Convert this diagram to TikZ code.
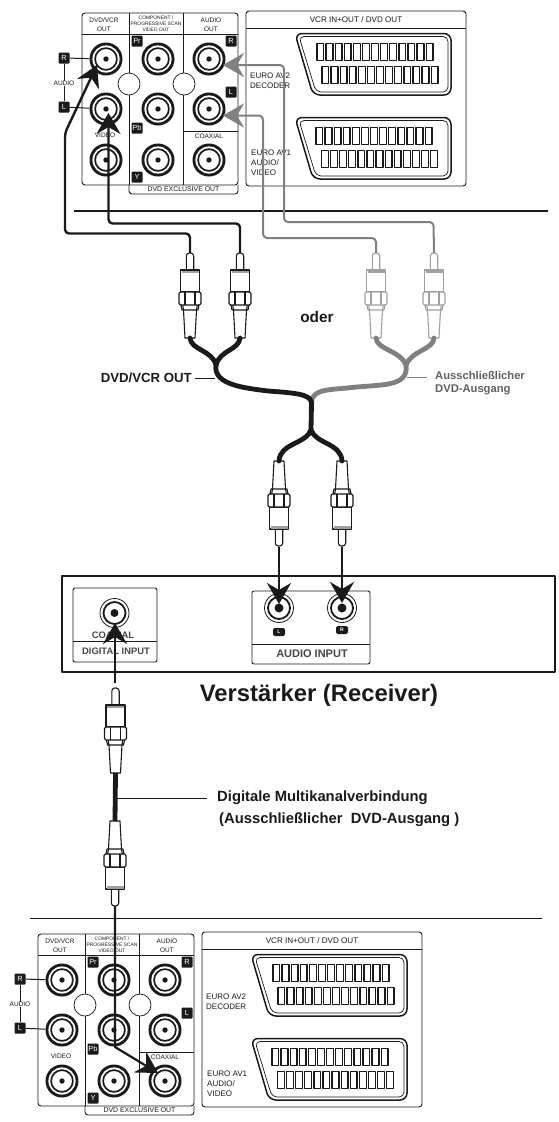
\documentclass[tikz,border=0pt]{standalone}
\usepackage{fontspec}
\setmainfont{Liberation Sans}
\usetikzlibrary{arrows.meta,calc}
\definecolor{ink}{HTML}{1A1A1A}
\definecolor{cablegray}{HTML}{808080}
\definecolor{pluggray}{HTML}{A0A0A0}
\newcommand{\fsz}[1]{\fontsize{#1}{#1}\selectfont}
\newcommand{\mkjack}[3]{%
  \node[jackbase] (#1) at (#2,#3) {};
  \fill[white] (#2,#3) circle (13.6);
  \draw[ink,line width=1.7] (#2,#3) circle (10.9);
  \fill[ink] (#2,#3) circle (2.7);
}
\newcommand{\mkrjack}[4]{%
  \node[rjackbase] (#1) at (#2,#3) {};
  \draw[ink,line width=1.8] (#2,#3) circle (11);
  \fill[ink] (#2,#3) circle (#4);
}
\newcommand{\mkpins}[3]{%
  \foreach \i in {0,...,12} {
    \draw[ink,line width=1.3] ({#1+\i*9.1},#3) rectangle ({#1+\i*9.1+6.8},{#3+17});
    \draw[ink,line width=1.3] ({#2+\i*9.1},{#3+23}) rectangle ({#2+\i*9.1+6.8},{#3+40});
  }
}
\tikzset{
  panelline/.style={ink,line width=0.9},
  jackbase/.style={circle,fill=ink,minimum size=33,inner sep=0},
  rjackbase/.style={circle,draw=ink,line width=0.8,fill=white,minimum size=29,inner sep=0},
  smalltxt/.style={text=ink,font=\fsz{6.5},inner sep=0,align=center},
  tinytxt/.style={text=ink,font=\fsz{4.9},inner sep=0,align=center},
  lefttxt/.style={text=ink,font=\fsz{8},inner sep=0,anchor=west},
  badge/.style={fill=ink,text=white,font=\fsz{7.4},rounded corners=1,minimum size=11,inner sep=0},
  rbadge/.style={fill=ink,text=white,font=\bfseries\fsz{5},rounded corners=1.6,minimum width=12,minimum height=8,inner sep=0},
  hole/.style={circle,draw=ink,line width=0.7,fill=white,minimum size=22,inner sep=0},
  boldtxt/.style={text=ink,font=\bfseries\fsz{14.8},inner sep=0,anchor=west},
  graytxt/.style={text=black!62,font=\bfseries\fsz{11.2},inner sep=0,anchor=west,align=left},
  recvtxt/.style={text=black!72,font=\bfseries\fsz{9.4},inner sep=0},
  wireb/.style={ink,line width=2.4,rounded corners=4},
  wireg/.style={cablegray,line width=2,rounded corners=4},
  thickb/.style={ink,line width=4.8,line cap=round},
  thickg/.style={cablegray,line width=4.8,line cap=round},
  tipb/.style={-{Stealth[length=21,width=24,inset=7]}},
  leader/.style={line width=0.9},
  rca/.pic={
    \coordinate (-tip) at (0,0);
    \coordinate (-tail) at (0,85);
    \draw[fill=white,rounded corners=3] (-3.7,17.5) -- (-3.7,0) -- (3.7,0) -- (3.7,17.5);
    \draw[fill=white] (-6.5,57) -- (-7.5,51) -- (7.5,51) -- (6.5,57) -- (5,85) -- (-5,85) -- cycle;
    \draw[fill=white] (-9.5,17) rectangle (9.5,39);
    \fill[pluggray] (-8.5,17.5) rectangle (8.5,20);
    \draw[fill=white,rounded corners=1.5] (-11,39) rectangle (11,52);
    \draw (-5,39) -- (-5,52) (5,39) -- (5,52);
    \draw (-9,52) -- (-8,57) -- (8,57) -- (9,52);
  },
  panel/.pic={
    % outer frames
    \draw[panelline,rounded corners=3] (129,185) -- (82,185) -- (82,13) -- (238,13) -- (238,185) -- (129,185);
    \draw[panelline,rounded corners=3] (129,185) -- (129,194) -- (238,194) -- (238,185);
    \draw[panelline] (82,34) -- (238,34);
    \draw[panelline] (129,13) -- (129,185) (183,13) -- (183,185);
    \draw[panelline] (183,131) -- (238,131);
    \node[hole] (-h1) at (129,84) {};
    \node[hole] (-h2) at (184,84) {};
    \mkjack{-j11}{106}{59}\mkjack{-j12}{158}{59}\mkjack{-j13}{209}{59}
    \mkjack{-j21}{106}{109}\mkjack{-j22}{158}{109}\mkjack{-j23}{209}{109}
    \mkjack{-j31}{106}{160}\mkjack{-j32}{158}{160}\mkjack{-j33}{209}{160}
    \node[smalltxt] (-a) at (104,24.5) {DVD/VCR\\[2.4pt]OUT};
    \node[tinytxt] (-b) at (156,24) {COMPONENT /\\[1pt]PROGRESSIVE SCAN\\[1pt]VIDEO OUT};
    \node[smalltxt] (-c) at (211,24.5) {AUDIO\\[2.4pt]OUT};
    \node[smalltxt] (-d) at (105,135) {VIDEO};
    \node[smalltxt] (-e) at (209,136) {COAXIAL};
    \node[smalltxt,font=\fsz{6.9}] (-f) at (183.5,189.3) {DVD EXCLUSIVE OUT};
    \node[smalltxt] (-g) at (64,83) {AUDIO};
    \node[badge] (-R) at (64,58) {R};
    \node[badge] (-L) at (64,107) {L};
    \draw[panelline,line width=1] (-R) -- (-j11);
    \draw[panelline,line width=1] (-L) -- (-j21);
    \draw[panelline,line width=1] (-R) -- (-g) (-g) -- (-L);
    \node[badge] (-pr) at (137,41) {Pr};
    \node[badge] (-pb) at (137,128) {Pb};
    \node[badge] (-y) at (137,177) {Y};
    \node[badge] (-r2) at (231,41) {R};
    \node[badge] (-l2) at (231,92) {L};
    % scart panel
    \draw[panelline,rounded corners=3] (246,11) rectangle (466,186);
    \draw[panelline] (246,28) -- (466,28);
    \node[smalltxt,font=\fsz{8.1}] (-s) at (356,20) {VCR IN+OUT / DVD OUT};
    \node[lefttxt] (-s1) at (250,76) {EURO AV2};
    \node[lefttxt] (-s2) at (250,86) {DECODER};
    \node[lefttxt] (-s3) at (251,153) {EURO AV1};
    \node[lefttxt] (-s4) at (251,163) {AUDIO/};
    \node[lefttxt] (-s5) at (251,173) {VIDEO};
    \foreach \dy in {0,84} {
      \draw[ink,line width=1.5,rounded corners=7] (295,{33.5+\dy}) -- (451,{33.5+\dy}) -- (451,{95+\dy}) -- (313,{95+\dy}) -- cycle;
      \draw[ink,line width=0.7,rounded corners=5] (299,{36.5+\dy}) -- (448,{36.5+\dy}) -- (448,{92+\dy}) -- (316,{92+\dy}) -- cycle;
    }
    \mkpins{317}{322}{43.5}
    \mkpins{316}{321.5}{127.5}
  }
}
\begin{document}
\begin{tikzpicture}[x=1pt,y=-1pt,line join=round]
\useasboundingbox (0,0) rectangle (559,1122);
\fill[white] (0,0) rectangle (559,1122);

\pic (top) at (0,0) {panel};
\pic (bot) at (-44,921) {panel};

% separators
\coordinate (sepA) at (74,211);
\coordinate (sepB) at (548,211);
\coordinate (sepC) at (30,918.5);
\coordinate (sepD) at (542,918.5);
\draw[ink,line width=1.2] (sepA) -- (sepB);
\draw[ink,line width=1.2] (sepC) -- (sepD);

% plugs
\pic[ink,line width=1.1] (p1) at (190,253) {rca};
\pic[ink,line width=1.1] (p2) at (240,253) {rca};
\pic[pluggray,line width=1.1] (p3) at (376,253) {rca};
\pic[pluggray,line width=1.1] (p4) at (434,253) {rca};
\pic[ink,line width=1.1,yscale=-1] (p5) at (279,546) {rca};
\pic[ink,line width=1.1,yscale=-1] (p6) at (342,546) {rca};
\pic[ink,line width=1.1] (p7) at (115.5,688) {rca};
\pic[ink,line width=1.1,yscale=-1] (p8) at (115,906) {rca};

% thin cables to the top panel
\coordinate (b1a) at (65,133);
\coordinate (b1b) at (65,233.5);
\coordinate (b1c) at (190,233.5);
\coordinate (b1t) at (97,65);
\coordinate (b2a) at (108.5,223.5);
\coordinate (b2b) at (240,223.5);
\coordinate (b2t) at (108.5,113);
\draw[wireb,tipb] (p1-tip) -- (b1c) -- (b1b) -- (b1a) -- (b1t);
\draw[wireb,tipb] (p2-tip) -- (b2b) -- (b2a) -- (b2t);
\coordinate (g1a) at (433.5,222);
\coordinate (g1b) at (284,222);
\coordinate (g1c) at (284,65);
\coordinate (g1t) at (223,65);
\coordinate (g2a) at (376,238);
\coordinate (g2b) at (263,238);
\coordinate (g2c) at (263,115.5);
\coordinate (g2t) at (223,115.5);
\draw[wireg,tipb] (p4-tip) -- (g1a) -- (g1b) -- (g1c) -- (g1t);
\draw[wireg,tipb] (p3-tip) -- (g2a) -- (g2b) -- (g2c) -- (g2t);

% thick Y cables
\coordinate (jg) at (406,365);
\coordinate (jb) at (216,365);
\coordinate (jm) at (311.5,403);
\coordinate (jn) at (311,430);
\draw[thickg] (p3-tail) .. controls (377,350) and (400,350) .. (jg);
\draw[thickg] (p4-tail) .. controls (433,350) and (412,350) .. (jg);
\draw[thickg] (jg) .. controls (409,388) and (380,384) .. (347,388) .. controls (325,390) and (312,390) .. (jm);
\draw[thickb] (p1-tail) .. controls (191,350) and (212,350) .. (jb);
\draw[thickb] (p2-tail) .. controls (239,350) and (220,350) .. (jb);
\draw[thickb] (jb) .. controls (213,385) and (245,388) .. (268,391) .. controls (295,393) and (311,394) .. (jm);
\draw[thickb] (jm) -- (jn);
\draw[thickb] (jn) .. controls (306,444) and (280,443) .. (p5-tail);
\draw[thickb] (jn) .. controls (316,444) and (341,443) .. (p6-tail);

% receiver
\node[draw=ink,line width=1.3,minimum width=493,minimum height=96,inner sep=0] (recv) at (308.5,624) {};
\draw[panelline,rounded corners=2] (73,588) rectangle (157,662);
\draw[panelline] (73,641) -- (157,641);
\draw[panelline,rounded corners=2] (252,591) rectangle (370,664);
\draw[panelline] (252,644) -- (370,644);
\mkrjack{dj}{114.5}{613}{4}
\mkrjack{aj1}{279}{608}{4.5}
\mkrjack{aj2}{342}{608}{4.5}
\node[recvtxt] (t1) at (113,635) {COAXIAL};
\node[recvtxt] (t2) at (116,651) {DIGITAL INPUT};
\node[recvtxt,font=\bfseries\fsz{11}] (t3) at (312,654) {AUDIO INPUT};
\node[rbadge] (t4) at (279,632) {L};
\node[rbadge] (t5) at (342,630) {R};
\node[text=ink,font=\bfseries\fsz{23.8},inner sep=0] (t6) at (319,695) {Verstärker (Receiver)};

% arrows
\coordinate (a1) at (279,604);
\coordinate (a2) at (342,603);
\coordinate (a3) at (115,623);
\coordinate (a3s) at (115,683);
\draw[ink,line width=2.2,tipb] (p5-tip) ++(0,1) -- (a1);
\draw[ink,line width=2.2,tipb] (p6-tip) ++(0,1) -- (a2);
\draw[ink,line width=2.2,tipb] (a3s) -- (a3);
\draw[thickb,line cap=butt] (p7-tail) -- (p8-tail);
\coordinate (d2) at (115,1047);
\coordinate (d3) at (158,1073);
\draw[ink,line width=2.2,tipb] (p8-tip) -- (d2) -- (d3);

% labels
\node[text=ink,font=\bfseries\fsz{13.2},inner sep=0,anchor=east] (l1) at (192,378) {DVD/VCR OUT};
\coordinate (l1a) at (215,378);
\draw[ink,leader,shorten <=3] (l1) -- (l1a);
\node[text=ink,font=\bfseries\fsz{15.4},inner sep=0] (l2) at (317,317) {oder};
\node[graytxt] (l3) at (435,383) {Ausschließlicher\\[2pt]DVD-Ausgang};
\coordinate (l3a) at (407,377);
\coordinate (l3b) at (427,377);
\draw[cablegray,leader] (l3a) -- (l3b);
\node[boldtxt] (l4) at (217,798) {Digitale Multikanalverbindung};
\coordinate (l4a) at (117,798);
\draw[ink,line width=1,shorten >=10] (l4a) -- (l4);
\node[boldtxt] (l5) at (219,820) {(Ausschließlicher\ \ DVD-Ausgang )};
\end{tikzpicture}
\end{document}
